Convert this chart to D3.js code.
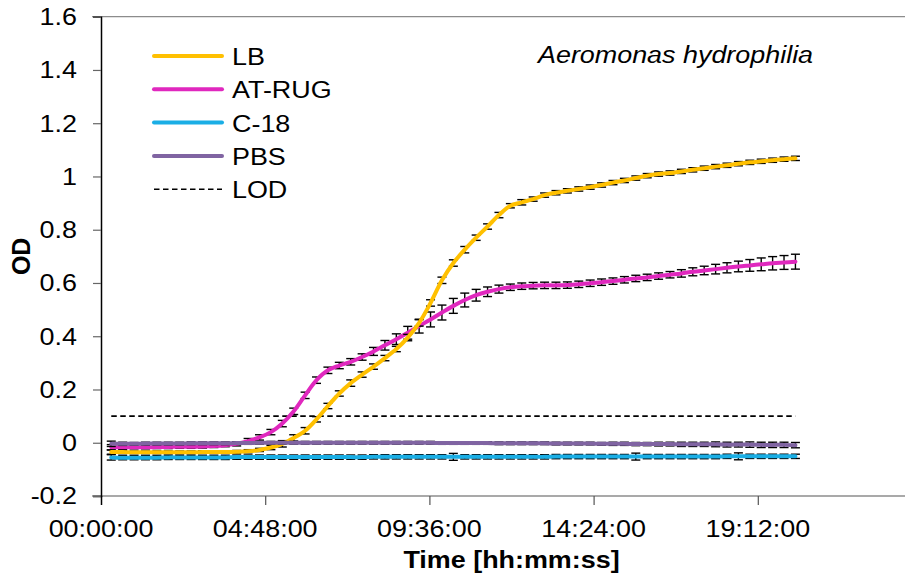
<!DOCTYPE html>
<html><head><meta charset="utf-8">
<script src="https://cdn.jsdelivr.net/npm/d3@7"></script>
<style>
html,body{margin:0;padding:0;background:#fff;overflow:hidden;}
text{font-family:"Liberation Sans",Arial,sans-serif;fill:#000;}
</style></head>
<body><svg id="c" width="905" height="578"></svg>
<script>
// ---- data ----
const seriesNames = ["LB", "AT-RUG", "C-18", "PBS"];
const seriesColors = ["#FFC000", "#E028BE", "#1AAEE5", "#8064A2"];
const lodLabel = "LOD";
const lodValue = 0.1;
const chartTitle = "Aeromonas hydrophilia";
const xTitle = "Time [hh:mm:ss]";
const yTitle = "OD";
const xTickHours = [0, 4.8, 9.6, 14.4, 19.2];
const xTickLabels = ["00:00:00", "04:48:00", "09:36:00", "14:24:00", "19:12:00"];
const yTickValues = [-0.2, 0, 0.2, 0.4, 0.6, 0.8, 1, 1.2, 1.4, 1.6];
const yTickLabels = ["-0.2", "0", "0.2", "0.4", "0.6", "0.8", "1", "1.2", "1.4", "1.6"];

// measurement times (minutes)
const timeMin = [18,38,58,78,98,118,138,158,178,198,218,238,258,278,298,318,338,358,378,398,
  418,438,458,478,498,518,538,558,578,598,618,638,658,678,698,718,738,758,778,798,
  818,838,858,878,898,918,938,958,978,998,1018,1038,1058,1078,1098,1118,1138,1158,1178,1198,1218];

const lbOD = [-0.035,-0.035,-0.036,-0.036,-0.036,-0.036,-0.036,-0.036,-0.035,-0.035,
  -0.035,-0.034,-0.032,-0.027,-0.018,-0.004,0.018,0.045,0.088,0.138,
  0.185,0.224,0.256,0.286,0.318,0.352,0.395,0.45,0.525,0.61,
  0.675,0.725,0.77,0.812,0.855,0.89,0.903,0.915,0.93,0.939,
  0.946,0.953,0.96,0.968,0.977,0.985,0.994,1.003,1.009,1.013,
  1.019,1.025,1.031,1.037,1.042,1.048,1.053,1.057,1.061,1.065,1.068];
const lbErr = [0.008,0.006,0.005,0.005,0.005,0.005,0.005,0.005,0.005,0.005,
  0.005,0.005,0.006,0.006,0.008,0.012,0.012,0.012,0.01,0.01,
  0.01,0.012,0.01,0.01,0.01,0.01,0.012,0.012,0.012,0.012,
  0.012,0.012,0.01,0.01,0.01,0.008,0.01,0.008,0.008,0.008,
  0.008,0.008,0.008,0.008,0.008,0.008,0.008,0.008,0.008,0.008,
  0.008,0.008,0.008,0.008,0.008,0.008,0.008,0.008,0.008,0.008,0.008];

const atrugOD = [-0.017,-0.017,-0.017,-0.017,-0.016,-0.016,-0.015,-0.015,-0.014,-0.012,
  -0.009,-0.004,0.006,0.02,0.04,0.072,0.118,0.178,0.235,0.272,
  0.29,0.304,0.322,0.343,0.366,0.389,0.413,0.438,0.463,0.489,
  0.514,0.536,0.554,0.567,0.577,0.584,0.588,0.59,0.591,0.591,
  0.592,0.595,0.599,0.603,0.607,0.612,0.617,0.621,0.626,0.631,
  0.636,0.642,0.647,0.652,0.657,0.662,0.666,0.67,0.674,0.677,0.68];
const atrugErr = [0.01,0.008,0.006,0.006,0.006,0.006,0.006,0.006,0.006,0.006,
  0.006,0.008,0.01,0.01,0.01,0.012,0.012,0.012,0.012,0.012,
  0.012,0.012,0.012,0.015,0.018,0.02,0.024,0.026,0.028,0.028,
  0.028,0.026,0.022,0.018,0.015,0.012,0.012,0.012,0.012,0.012,
  0.012,0.012,0.012,0.012,0.012,0.012,0.012,0.012,0.012,0.012,
  0.014,0.015,0.016,0.018,0.019,0.02,0.022,0.024,0.025,0.026,0.028];

const c18OD = [-0.055,-0.056,-0.056,-0.056,-0.056,-0.055,-0.055,-0.055,-0.055,-0.055,
  -0.055,-0.054,-0.054,-0.054,-0.054,-0.054,-0.054,-0.054,-0.054,-0.054,
  -0.054,-0.054,-0.054,-0.053,-0.053,-0.053,-0.053,-0.053,-0.053,-0.053,
  -0.053,-0.053,-0.053,-0.053,-0.053,-0.053,-0.053,-0.053,-0.053,-0.052,
  -0.052,-0.052,-0.052,-0.052,-0.052,-0.052,-0.052,-0.052,-0.052,-0.052,
  -0.052,-0.052,-0.052,-0.052,-0.051,-0.051,-0.051,-0.051,-0.051,-0.051,-0.051];
const c18Err = [0.01,0.008,0.008,0.008,0.008,0.008,0.008,0.008,0.008,0.008,
  0.008,0.008,0.008,0.008,0.008,0.008,0.008,0.008,0.008,0.008,
  0.008,0.008,0.008,0.008,0.008,0.008,0.008,0.008,0.008,0.008,
  0.013,0.008,0.008,0.008,0.008,0.008,0.008,0.008,0.008,0.008,
  0.008,0.008,0.008,0.008,0.008,0.008,0.013,0.008,0.008,0.008,
  0.008,0.008,0.008,0.008,0.008,0.013,0.008,0.008,0.008,0.008,0.008];

const pbsOD = [-0.004,-0.004,-0.004,-0.003,-0.003,-0.003,-0.003,-0.002,-0.002,-0.002,
  -0.002,-0.001,-0.001,0.0,0.0,0.0,0.0,0.0,0.0,0.0,
  0.0,0.0,0.0,0.0,0.0,0.0,0.0,0.0,0.0,-0.001,
  -0.001,-0.001,-0.001,-0.001,-0.002,-0.002,-0.002,-0.002,-0.002,-0.003,
  -0.003,-0.003,-0.003,-0.004,-0.004,-0.004,-0.005,-0.005,-0.005,-0.005,
  -0.006,-0.006,-0.006,-0.006,-0.007,-0.007,-0.007,-0.008,-0.008,-0.008,-0.009];
const pbsErr = [0.01,0.006,0.005,0.005,0.005,0.005,0.005,0.005,0.005,0.005,
  0.005,0.005,0.005,0.005,0.005,0.005,0.005,0.005,0.005,0.005,
  0.005,0.005,0.005,0.005,0.005,0.005,0.005,0.005,0.005,0.005,
  0.005,0.005,0.005,0.005,0.005,0.005,0.005,0.005,0.005,0.005,
  0.005,0.005,0.005,0.005,0.006,0.006,0.006,0.006,0.007,0.007,
  0.008,0.008,0.008,0.009,0.009,0.009,0.01,0.01,0.01,0.01,0.01];

// ---- chart ----
const svg = d3.select("#c");
const x = d3.scaleLinear().domain([0, 24]).range([101, 922]);
const y = d3.scaleLinear().domain([-0.2, 1.6]).range([496, 16.7]);
const SX = 1.17; // horizontal text stretch of the reference

function stext(g, px, py, str, anchor, opts) {
  const t = g.append("text")
    .attr("transform", `translate(${px},${py}) scale(${SX},1)`)
    .attr("text-anchor", anchor)
    .attr("font-size", opts.size || 23)
    .text(str);
  if (opts.weight) t.attr("font-weight", opts.weight);
  if (opts.style) t.attr("font-style", opts.style);
  return t;
}

// frame lines
svg.append("line").attr("x1", 92).attr("x2", 905).attr("y1", y(1.6)).attr("y2", y(1.6))
  .attr("stroke", "#8c8c8c").attr("stroke-width", 1.3);
svg.append("line").attr("x1", 92).attr("x2", 905).attr("y1", y(-0.2)).attr("y2", y(-0.2))
  .attr("stroke", "#8c8c8c").attr("stroke-width", 1.3);

// y axis
const yAxis = d3.axisLeft(y).tickValues(yTickValues).tickSize(8).tickFormat("");
const yg = svg.append("g").attr("transform", `translate(${x(0)},0)`).call(yAxis);
yg.select(".domain").attr("stroke", "#000").attr("stroke-width", 1.5);
yg.selectAll(".tick line").attr("stroke", "#666").attr("stroke-width", 1.2);
yTickValues.forEach((v, i) => stext(svg, 77, y(v) + 8.3, yTickLabels[i], "end", {}));

// x axis
const xAxis = d3.axisBottom(x).tickValues(xTickHours).tickSize(9).tickFormat("");
const xg = svg.append("g").attr("transform", `translate(0,${y(-0.2)})`).call(xAxis);
xg.select(".domain").remove();
xg.selectAll(".tick line").attr("stroke", "#555").attr("stroke-width", 1.2);
xg.selectAll(".tick").filter(d => d === 0).select("line").attr("stroke", "#000").attr("stroke-width", 1.5);
xTickHours.forEach((h, i) => stext(svg, x(h), 536.5, xTickLabels[i], "middle", {}));

// titles
stext(svg, (x(0) + x(24)) / 2, 568, xTitle, "middle", { weight: "bold" });
svg.append("text").attr("transform", `translate(30,${y(0.7)}) rotate(-90)`)
  .attr("text-anchor", "middle").attr("font-size", 25).attr("font-weight", "bold").text(yTitle);
stext(svg, 538, 63, chartTitle, "start", { style: "italic" });

// LOD line
const tHours = timeMin.map(m => m / 60);
svg.append("line")
  .attr("x1", x(tHours[0])).attr("x2", x(tHours[tHours.length - 1]))
  .attr("y1", y(lodValue)).attr("y2", y(lodValue))
  .attr("stroke", "#000").attr("stroke-width", 1.6).attr("stroke-dasharray", "5.5,3.5");

// series
const series = [
  { name: seriesNames[1], color: seriesColors[1], v: atrugOD, e: atrugErr },
  { name: seriesNames[0], color: seriesColors[0], v: lbOD, e: lbErr },
  { name: seriesNames[2], color: seriesColors[2], v: c18OD, e: c18Err },
  { name: seriesNames[3], color: seriesColors[3], v: pbsOD, e: pbsErr }
];
const line = d3.line().x(d => x(d.t)).y(d => y(d.v)).curve(d3.curveCatmullRom.alpha(0.5));
series.forEach(s => {
  const pts = tHours.map((t, i) => ({ t, v: s.v[i], e: s.e[i] }));
  const g = svg.append("g");
  // error bars
  const eb = g.append("g").attr("stroke", "#000").attr("stroke-width", 1.4);
  pts.forEach(p => {
    const cx = x(p.t), y1 = y(p.v + p.e), y2 = y(p.v - p.e);
    eb.append("line").attr("x1", cx).attr("x2", cx).attr("y1", y1).attr("y2", y2);
    eb.append("line").attr("x1", cx - 4.5).attr("x2", cx + 4.5).attr("y1", y1).attr("y2", y1);
    eb.append("line").attr("x1", cx - 4.5).attr("x2", cx + 4.5).attr("y1", y2).attr("y2", y2);
  });
  g.append("path").datum(pts).attr("d", line).attr("fill", "none")
    .attr("stroke", s.color).attr("stroke-width", 4).attr("stroke-linejoin", "round").attr("stroke-linecap", "round");
});

// legend
const legendItems = [
  { name: seriesNames[0], color: seriesColors[0], dash: null, w: 4 },
  { name: seriesNames[1], color: seriesColors[1], dash: null, w: 4 },
  { name: seriesNames[2], color: seriesColors[2], dash: null, w: 4 },
  { name: seriesNames[3], color: seriesColors[3], dash: null, w: 4 },
  { name: lodLabel, color: "#000", dash: "5.5,3.5", w: 1.6 }
];
legendItems.forEach((it, i) => {
  const ly = 56 + i * 33.3;
  const l = svg.append("line").attr("x1", 154).attr("x2", 222).attr("y1", ly).attr("y2", ly)
    .attr("stroke", it.color).attr("stroke-width", it.w).attr("stroke-linecap", it.dash ? "butt" : "round");
  if (it.dash) l.attr("stroke-dasharray", it.dash);
  stext(svg, 232, ly + 9, it.name, "start", {});
});
</script></body></html>
